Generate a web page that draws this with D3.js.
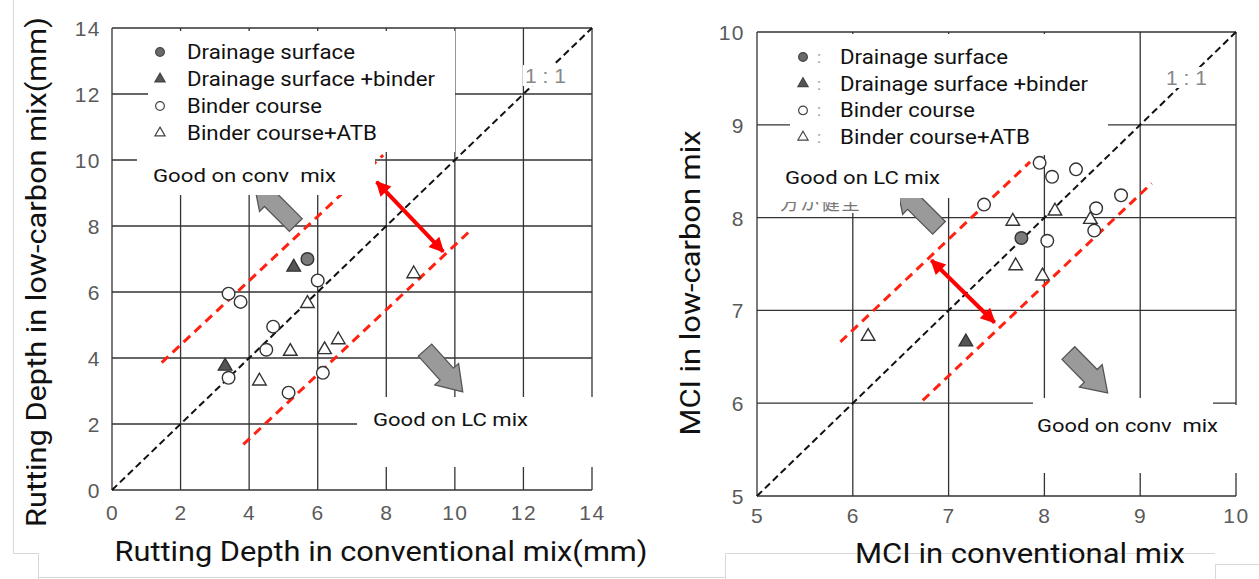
<!DOCTYPE html>
<html>
<head>
<meta charset="utf-8">
<script src="https://cdn.jsdelivr.net/npm/d3@7"></script>
<style>
  html, body { margin: 0; padding: 0; background: #fff; }
  svg { display: block; }
</style>
</head>
<body>
<svg id="chart" width="1259" height="579"></svg>
<script>
// ---------------- DATA ----------------
// Left panel: Rutting depth (mm)
const rutTicks = [0, 2, 4, 6, 8, 10, 12, 14];
const rutDrainX = [5.7];
const rutDrainY = [7.0];
const rutDrainBinderX = [5.3, 3.3];
const rutDrainBinderY = [6.75, 3.75];
const rutBinderX = [6.0, 3.4, 3.75, 4.7, 4.5, 3.4, 5.15, 6.15];
const rutBinderY = [6.35, 5.95, 5.7, 4.95, 4.25, 3.4, 2.95, 3.55];
const rutAtbX = [8.8, 5.7, 6.6, 6.2, 5.2, 4.3];
const rutAtbY = [6.55, 5.65, 4.55, 4.25, 4.2, 3.3];
// annotation guides (data units)
const rutUpperBand = [[1.45, 3.86], [7.91, 10.15]];
const rutLowerBand = [[3.83, 1.38], [10.49, 7.9]];
const rutDoubleArrow = [[7.72, 9.34], [9.66, 7.22]];
const rutArrowConv = [[5.36, 8.03], [4.14, 9.30]];
const rutArrowLC = [[9.13, 4.24], [10.23, 2.97]];

// Right panel: MCI
const mciTicks = [5, 6, 7, 8, 9, 10];
const mciDrainX = [7.76];
const mciDrainY = [7.78];
const mciDrainBinderX = [7.18];
const mciDrainBinderY = [6.66];
const mciBinderX = [7.95, 7.37, 8.08, 8.33, 8.8, 8.54, 8.52, 8.03];
const mciBinderY = [8.59, 8.14, 8.44, 8.52, 8.24, 8.10, 7.86, 7.75];
const mciAtbX = [8.11, 7.67, 8.48, 7.70, 7.98, 6.16];
const mciAtbY = [8.07, 7.96, 7.98, 7.48, 7.37, 6.72];
const mciUpperBand = [[5.87, 6.66], [7.85, 8.60]];
const mciLowerBand = [[6.73, 6.03], [9.12, 8.37]];
const mciDoubleArrow = [[6.82, 7.54], [7.48, 6.87]];
const mciArrowLC = [[6.90, 7.89], [6.46, 8.34]];
const mciArrowConv = [[8.25, 6.54], [8.66, 6.11]];

const legendLabels = ["Drainage surface", "Drainage surface +binder", "Binder course", "Binder course+ATB"];
const legendWidths = [168, 248, 135, 190];

// ---------------- DRAWING ----------------
const svg = d3.select("#chart");
const defs = svg.append("defs");
defs.append("marker")
  .attr("id", "redhead").attr("viewBox", "0 0 10 10")
  .attr("refX", 9).attr("refY", 5)
  .attr("markerWidth", 18).attr("markerHeight", 15)
  .attr("markerUnits", "userSpaceOnUse")
  .attr("orient", "auto-start-reverse")
  .append("path").attr("d", "M0,0 L10,5 L0,10 Z").attr("fill", "#f00");

// faint screenshot borders
const frame = svg.append("g").attr("stroke", "#d8d8d8").attr("stroke-width", 1).attr("fill", "none");
frame.append("path").attr("d", "M13.5,0 V553.5 H38.5 V579");
frame.append("path").attr("d", "M38.5,577.5 H725");
frame.append("path").attr("d", "M725.5,579 V553.5 H1215");
frame.append("path").attr("d", "M1215.5,579 V564.5 H1259");

function panel(cfg) {
  const x = d3.scaleLinear().domain(cfg.domain).range([cfg.x0, cfg.x1]);
  const y = d3.scaleLinear().domain(cfg.domain).range([cfg.y0, cfg.y1]);
  const g = svg.append("g");

  // grid (includes frame)
  const grid = g.append("g").attr("stroke", "#333").attr("stroke-width", 1.3);
  grid.selectAll("line.v").data(cfg.ticks).join("line")
    .attr("x1", d => x(d)).attr("x2", d => x(d))
    .attr("y1", y(cfg.domain[0])).attr("y2", y(cfg.domain[1]));
  grid.selectAll("line.h").data(cfg.ticks).join("line")
    .attr("y1", d => y(d)).attr("y2", d => y(d))
    .attr("x1", x(cfg.domain[0])).attr("x2", x(cfg.domain[1]));

  // tick labels
  const yAxis = d3.axisLeft(y).tickValues(cfg.ticks).tickSize(0).tickPadding(0).tickFormat(d3.format("d"));
  const xAxis = d3.axisBottom(x).tickValues(cfg.ticks).tickSize(0).tickPadding(0).tickFormat(d3.format("d"));
  const ya = g.append("g").attr("transform", `translate(${cfg.yTickX},0)`).call(yAxis);
  const xa = g.append("g").attr("transform", `translate(0,${cfg.xTickY})`).call(xAxis);
  [ya, xa].forEach(a => {
    a.select(".domain").remove();
    a.selectAll("text").attr("fill", "#5a5a5a").attr("font-family", "Liberation Sans, Arial, sans-serif")
      .attr("font-size", 21).attr("letter-spacing", 1.5);
  });
  ya.selectAll("text").attr("dy", "0.36em");
  xa.selectAll("text").attr("dy", "0");

  // 1:1 line
  g.append("line")
    .attr("x1", x(cfg.domain[0])).attr("y1", y(cfg.domain[0]))
    .attr("x2", x(cfg.domain[1])).attr("y2", y(cfg.domain[1]))
    .attr("stroke", "#111").attr("stroke-width", 2).attr("stroke-dasharray", "7,4");
  g.append("rect").attr("x", cfg.oneX - 2).attr("y", cfg.oneY - 18)
    .attr("width", 42).attr("height", 21).attr("fill", "#fff");
  g.append("text").attr("x", cfg.oneX).attr("y", cfg.oneY)
    .attr("fill", "#888").attr("font-family", "Liberation Sans, Arial, sans-serif")
    .attr("font-size", 21)
    .attr("xml:space", "preserve").style("white-space", "pre").text("1 : 1");

  // red bands
  [cfg.upper, cfg.lower].forEach(b => {
    g.append("line")
      .attr("x1", x(b[0][0])).attr("y1", y(b[0][1]))
      .attr("x2", x(b[1][0])).attr("y2", y(b[1][1]))
      .attr("stroke", "#f21").attr("stroke-width", 3).attr("stroke-dasharray", "9,6");
  });
  g.append("line")
    .attr("x1", x(cfg.dbl[0][0])).attr("y1", y(cfg.dbl[0][1]))
    .attr("x2", x(cfg.dbl[1][0])).attr("y2", y(cfg.dbl[1][1]))
    .attr("stroke", "#f00").attr("stroke-width", 4)
    .attr("marker-start", "url(#redhead)").attr("marker-end", "url(#redhead)");

  // gray block arrows
  cfg.grayArrows.forEach(a => {
    const T = [x(a[0][0]), y(a[0][1])], P = [x(a[1][0]), y(a[1][1])];
    const dx = P[0] - T[0], dy = P[1] - T[1], L = Math.hypot(dx, dy);
    const u = [dx / L, dy / L], n = [-u[1], u[0]];
    const w = 9, W = 16, h = 24;
    const B = [P[0] - u[0] * h, P[1] - u[1] * h];
    const pts = [
      [T[0] + n[0] * w, T[1] + n[1] * w], [B[0] + n[0] * w, B[1] + n[1] * w],
      [B[0] + n[0] * W, B[1] + n[1] * W], P,
      [B[0] - n[0] * W, B[1] - n[1] * W], [B[0] - n[0] * w, B[1] - n[1] * w],
      [T[0] - n[0] * w, T[1] - n[1] * w]];
    g.append("path").attr("d", d3.line()(pts) + "Z")
      .attr("fill", "#9a9a9a").attr("stroke", "#555").attr("stroke-width", 1.3);
  });

  // points
  const circ = d3.symbol().type(d3.symbolCircle).size(125)();
  const tri = d3.symbol().type(d3.symbolTriangle).size(80)();
  const series = [
    {xs: cfg.s[0][0], ys: cfg.s[0][1], sym: circ, fill: "#7a7a7a"},
    {xs: cfg.s[1][0], ys: cfg.s[1][1], sym: tri, fill: "#555"},
    {xs: cfg.s[2][0], ys: cfg.s[2][1], sym: circ, fill: "#fff"},
    {xs: cfg.s[3][0], ys: cfg.s[3][1], sym: tri, fill: "#fff"}
  ];
  series.forEach(s => {
    g.selectAll(null).data(s.xs.map((v, i) => [v, s.ys[i]])).join("path")
      .attr("d", s.sym)
      .attr("transform", d => `translate(${x(d[0])},${y(d[1])})`)
      .attr("fill", s.fill).attr("stroke", "#333").attr("stroke-width", 1.4);
  });

  // white boxes (covering grid)
  cfg.boxes.forEach(b => g.append("rect").attr("x", b[0]).attr("y", b[1])
    .attr("width", b[2] - b[0]).attr("height", b[3] - b[1]).attr("fill", "#fff"));

  // legend
  const lg = g.append("g");
  const lsyms = [
    {sym: d3.symbol().type(d3.symbolCircle).size(60)(), fill: "#6a6a6a"},
    {sym: d3.symbol().type(d3.symbolTriangle).size(45)(), fill: "#555"},
    {sym: d3.symbol().type(d3.symbolCircle).size(60)(), fill: "#fff"},
    {sym: d3.symbol().type(d3.symbolTriangle).size(45)(), fill: "#fff"}
  ];
  legendLabels.forEach((lab, i) => {
    const cy = cfg.legY + i * cfg.legStep;
    lg.append("path").attr("d", lsyms[i].sym).attr("transform", `translate(${cfg.legMX},${cy})`)
      .attr("fill", lsyms[i].fill).attr("stroke", "#444").attr("stroke-width", 1.2);
    if (cfg.colon) lg.append("text").attr("x", cfg.legMX + 14).attr("y", cy + 6)
      .attr("fill", "#999").attr("font-family", "Roboto, sans-serif").attr("font-size", 17).text(":");
    lg.append("text").attr("x", cfg.legTX).attr("y", cy + 7)
      .attr("fill", "#111").attr("font-family", "Roboto, sans-serif").attr("font-size", 20)
      .attr("textLength", legendWidths[i]).attr("lengthAdjust", "spacingAndGlyphs").text(lab);
  });

  // region labels
  cfg.labels.forEach(l => g.append("text").attr("x", l.x).attr("y", l.y)
    .attr("fill", "#111").attr("font-family", "Roboto, sans-serif").attr("font-size", 19)
    .attr("textLength", l.w).attr("lengthAdjust", "spacingAndGlyphs")
    .attr("xml:space", "preserve").style("white-space", "pre").text(l.t));

  // axis titles
  g.append("text").attr("x", cfg.xt.x).attr("y", cfg.xt.y).attr("text-anchor", "middle")
    .attr("font-family", "Roboto, sans-serif").attr("font-size", 27).attr("fill", "#111")
    .attr("textLength", cfg.xt.w).attr("lengthAdjust", "spacingAndGlyphs").text(cfg.xt.t);
  g.append("text").attr("transform", `translate(${cfg.yt.x},${cfg.yt.y}) rotate(-90)`)
    .attr("text-anchor", "middle")
    .attr("font-family", "Roboto, sans-serif").attr("font-size", 27).attr("fill", "#111")
    .attr("textLength", cfg.yt.w).attr("lengthAdjust", "spacingAndGlyphs").text(cfg.yt.t);
  return {g, x, y};
}

panel({
  domain: [0, 14], ticks: rutTicks, x0: 112, x1: 592, y0: 490, y1: 28,
  yTickX: 101, xTickY: 520, oneX: 525, oneY: 83,
  upper: rutUpperBand, lower: rutLowerBand, dbl: rutDoubleArrow,
  grayArrows: [rutArrowConv, rutArrowLC],
  s: [[rutDrainX, rutDrainY], [rutDrainBinderX, rutDrainBinderY], [rutBinderX, rutBinderY], [rutAtbX, rutAtbY]],
  boxes: [[148, 31, 455, 152], [137, 152, 375, 195], [357, 397, 595, 467]],
  legY: 52, legStep: 27, legMX: 160, legTX: 187, colon: false,
  labels: [{x: 153, y: 182, w: 183, t: "Good on conv  mix"}, {x: 373, y: 426, w: 155, t: "Good on LC mix"}],
  xt: {x: 381, y: 561, w: 533, t: "Rutting Depth in conventional mix(mm)"},
  yt: {x: 46, y: 272, w: 510, t: "Rutting Depth in low-carbon mix(mm)"}
});

const right = panel({
  domain: [5, 10], ticks: mciTicks, x0: 757, x1: 1236, y0: 496, y1: 32,
  yTickX: 745, xTickY: 523, oneX: 1166, oneY: 85,
  upper: mciUpperBand, lower: mciLowerBand, dbl: mciDoubleArrow,
  grayArrows: [mciArrowLC, mciArrowConv],
  s: [[mciDrainX, mciDrainY], [mciDrainBinderX, mciDrainBinderY], [mciBinderX, mciBinderY], [mciAtbX, mciAtbY]],
  boxes: [[790, 34, 1108, 155], [762, 150, 960, 198], [762, 198, 900, 213], [1033, 398, 1213, 473], [1213, 405, 1240, 473]],
  legY: 57, legStep: 26.7, legMX: 803, legTX: 840, colon: true,
  labels: [{x: 785, y: 184, w: 155, t: "Good on LC mix"}, {x: 1037, y: 432, w: 181, t: "Good on conv  mix"}],
  xt: {x: 1020, y: 563, w: 330, t: "MCI in conventional mix"},
  yt: {x: 700, y: 283, w: 305, t: "MCI in low-carbon mix"}
});

// remnant of original Japanese label, top half hidden
defs.append("clipPath").attr("id", "jpclip").append("rect")
  .attr("x", 770).attr("y", 202).attr("width", 120).attr("height", 10);
right.g.append("text").attr("x", 780).attr("y", 210).attr("clip-path", "url(#jpclip)")
  .attr("fill", "#777").attr("font-family", "Noto Sans CJK JP, sans-serif").attr("font-size", 19)
  .attr("textLength", 80).attr("lengthAdjust", "spacing")
  .text("方が健全");
</script>
</body>
</html>
